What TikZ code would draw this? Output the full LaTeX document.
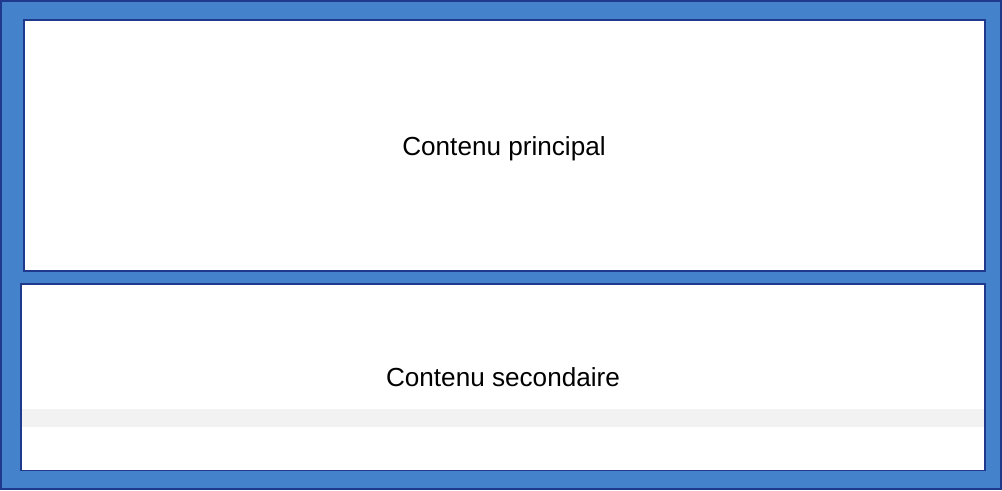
\documentclass[tikz,border=0pt]{standalone}
\usepackage{fontspec}
\setmainfont{Liberation Sans}
\definecolor{frameblue}{HTML}{4482CB}
\definecolor{edgeblue}{HTML}{1F3A8C}
\definecolor{bandgray}{HTML}{F2F2F2}
\tikzset{
  panel/.style={draw=edgeblue, line width=1.3pt, fill=white},
  boxtext/.style={font=\fontsize{19.6pt}{23pt}\selectfont, text=black}
}
\begin{document}
\begin{tikzpicture}[x=0.75pt,y=-0.75pt]
\useasboundingbox (0,0) rectangle (1002,490);
\fill[frameblue] (0,0) rectangle (1002,490);
\draw[edgeblue, line width=1.2pt] (0.8,0.8) rectangle (1001.2,489.2);
\draw[panel] (24,20) rectangle (985,271);
\draw[panel] (21,284) rectangle (985,470.5);
\fill[bandgray] (22,409) rectangle (984,427);
\node[boxtext] (main) at (504,149) {Contenu principal};
\node[boxtext] (second) at (503,377) {Contenu secondaire};
\end{tikzpicture}
\end{document}
